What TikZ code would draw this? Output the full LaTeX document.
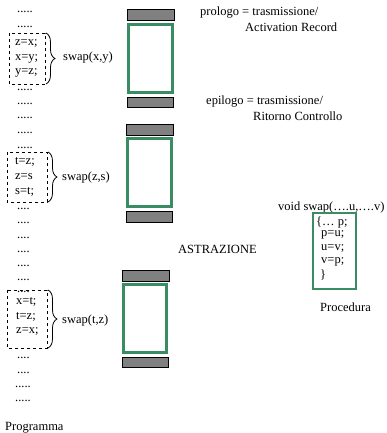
\documentclass[tikz,border=0pt]{standalone}
\usepackage{fontspec}
\setmainfont{Liberation Serif}
\usetikzlibrary{decorations.pathreplacing}
\definecolor{argreen}{RGB}{58,140,98}
\tikzset{
  txt/.style={inner sep=0pt, anchor=west, font=\fontsize{12.5}{15}\selectfont},
  bar/.style={fill=gray, draw=black, line width=.8pt},
  frame/.style={draw=argreen, line width=3pt},
  codebox/.style={dashed, line width=.8pt},
  grp/.style={decorate, decoration={brace, amplitude=9pt}, line width=.8pt},
}

\begin{document}
\begin{tikzpicture}[x=1pt, y=-1pt]
\useasboundingbox (0,0) rectangle (387,433);

% programma chiamante
\node[txt] (p1) at (17,12) {.....};
\node[txt] (p2) at (17,27) {.....};
\draw[codebox] (9,33) rectangle (45,84);
\node[txt] (a1) at (15,44) {z=x;};
\node[txt] (a2) at (15,59) {x=y;};
\node[txt] (a3) at (15,73) {y=z;};
\draw[grp] (46,33) -- (46,84);
\node[txt] (s1) at (63,58) {swap(x,y)};
\node[txt] (p3) at (17,90) {.....};
\node[txt] (p4) at (17,104) {.....};
\node[txt] (p5) at (17,118) {.....};
\node[txt] (p6) at (17,133) {.....};
\node[txt] (p7) at (17,148) {.....};

\draw[codebox] (7,152) rectangle (47,202);
\node[txt] (b1) at (15,162) {t=z;};
\node[txt] (b2) at (15,177) {z=s};
\node[txt] (b3) at (15,192) {s=t;};
\draw[grp] (48,152) -- (48,202);
\node[txt] (s2) at (62,177) {swap(z,s)};
\node[txt] (p8) at (17,209) {....};
\node[txt] (p9) at (17,223) {....};
\node[txt] (p10) at (17,238) {....};
\node[txt] (p11) at (17,252) {....};
\node[txt] (p12) at (17,266) {....};
\node[txt] (p13) at (17,280) {....};
\node[txt] (p14) at (17,292) {....};

\draw[codebox] (7,290) rectangle (47,348);
\node[txt] (c1) at (16,302) {x=t;};
\node[txt] (c2) at (16,317) {t=z;};
\node[txt] (c3) at (16,332) {z=x;};
\draw[grp] (48,290) -- (48,348);
\node[txt] (s3) at (62,320) {swap(t,z)};
\node[txt] (p15) at (17,358) {....};
\node[txt] (p16) at (17,373) {....};
\node[txt] (p17) at (15,387) {.....};
\node[txt] (p18) at (15,401) {.....};
\node[txt] (prog) at (5,428) {Programma};

% record di attivazione per ogni chiamata
\draw[bar] (127,9) rectangle (174,20);
\draw[frame] (128.5,24.5) rectangle (172.5,92.5);
\draw[bar] (127,97) rectangle (173,107);

\draw[bar] (126,124) rectangle (173,135);
\draw[frame] (127.5,138.5) rectangle (171.5,206.5);
\draw[bar] (126,211) rectangle (172,222);

\draw[bar] (122,270) rectangle (169,281);
\draw[frame] (123.5,284.5) rectangle (166.5,352.5);
\draw[bar] (122,357) rectangle (168,367);

\node[txt] (pro) at (200,13) {prologo = trasmissione/};
\node[txt] (ar) at (245,27) {Activation Record};
\node[txt] (epi) at (206,102) {epilogo = trasmissione/};
\node[txt] (rc) at (253,116) {Ritorno Controllo};
\node[txt] (astr) at (178,249) {ASTRAZIONE};

% procedura
\node[txt] (head) at (278,207) {void swap(….u,….v)};
\draw[draw=argreen, line width=2.5pt] (313,213) rectangle (356,289);
\node[txt] (q1) at (316,222) {\{… p;};
\node[txt] (q2) at (321,235) {p=u;};
\node[txt] (q3) at (321,249) {u=v;};
\node[txt] (q4) at (321,262) {v=p;};
\node[txt] (q5) at (320,275) {\}};
\node[txt] (proc) at (320,307) {Procedura};

\end{tikzpicture}
\end{document}
